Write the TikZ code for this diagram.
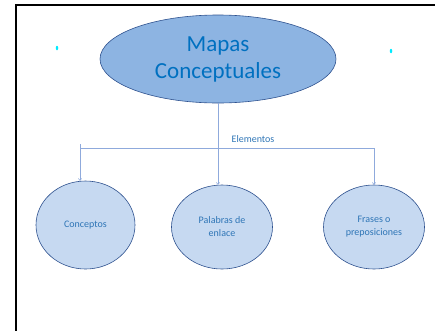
\documentclass[tikz,border=0pt]{standalone}
\usepackage{fontspec}
\setmainfont{Carlito}
\usepackage{tikz}
\usetikzlibrary{arrows.meta,shapes.geometric,positioning}

\definecolor{mapfill}{RGB}{141,180,226}
\definecolor{elemfill}{RGB}{198,217,241}
\definecolor{mapedge}{RGB}{47,82,143}
\definecolor{maptext}{RGB}{0,112,192}
\definecolor{linktext}{RGB}{46,117,182}
\definecolor{linkline}{RGB}{143,170,220}
\definecolor{dotcyan}{RGB}{0,235,255}

\begin{document}
\begin{tikzpicture}[x=1pt,y=-1pt,node distance=2cm,on grid]
       \tikzstyle{every node}=[font=\fontsize{10}{13}\selectfont]
       \tikzstyle{bigmap}=[ellipse, draw=mapedge, fill=mapfill, line width=0.6pt,
              minimum width=236pt, minimum height=88pt, inner sep=0pt, align=center,
              text=maptext, font=\fontsize{23}{27}\selectfont]
       \tikzstyle{elem}=[ellipse, draw=mapedge, fill=elemfill, line width=0.6pt,
              minimum width=101pt, minimum height=84pt, inner sep=0pt, align=center,
              text=linktext]
       \tikzstyle{link}=[draw=linkline, line width=0.6pt]
       \tikzstyle{dot}=[ellipse, fill=dotcyan, inner sep=0pt, minimum width=2.5pt, minimum height=4.5pt]

       \useasboundingbox (0,0) rectangle (435,330);
       \draw[line width=2pt] (16,331) -- (16,5) -- (436,5);

       \node[bigmap] (mapas) at (218,59) {Mapas\\Conceptuales};
       \node[elem] (palabras) [below=168pt of mapas, xshift=4pt] {Palabras de\\enlace};
       \node[elem, minimum width=99pt, minimum height=88pt] (conceptos) [left=136.5pt of palabras, yshift=2pt] {Conceptos};
       \node[elem] (frases) [right=152pt of palabras] {Frases o\\preposiciones};

       \node[dot] (dotl) at (57,48) {};
       \node[dot] (dotr) at (391,51) {};

       \coordinate (hl) at (80,144);
       \coordinate (hlb) at (80,148);
       \coordinate (hr) at (374,148);

       \draw[link] (hlb) -- (hr);
       \draw[link, -{To[length=2.5pt,width=4pt]}] (mapas.south) -- (mapas.south |- palabras.north)
              node[pos=0.44, xshift=35pt, text=linktext] (elementos) {Elementos};
       \draw[link, -{To[length=2.5pt,width=4pt]}] (hl) -- (hl |- conceptos.north);
       \draw[link, -{To[length=2.5pt,width=4pt]}] (hr) -- (hr |- frases.north);
\end{tikzpicture}
\end{document}
